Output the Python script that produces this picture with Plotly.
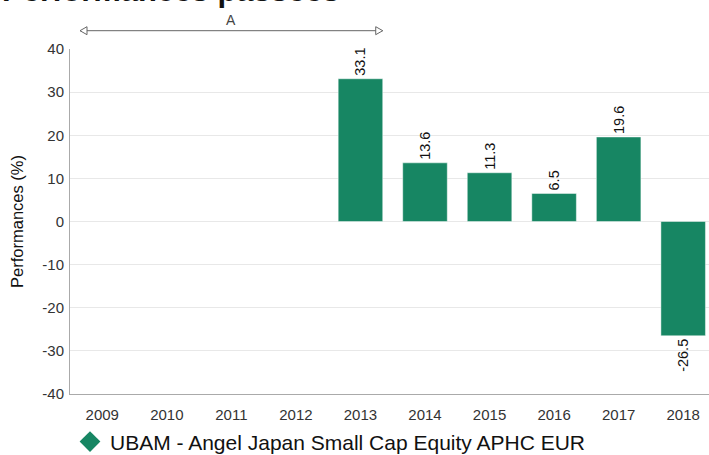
import plotly.graph_objects as go

years = [2009, 2010, 2011, 2012, 2013, 2014, 2015, 2016, 2017, 2018]
perf = [None, None, None, None, 33.1, 13.6, 11.3, 6.5, 19.6, -26.5]
labels = ["" if v is None else f"{v:.1f}" for v in perf]
y_ticks = [40, 30, 20, 10, 0, -10, -20, -30, -40]
y_tick_labels = ["40", "30", "20", "10", "0", "-10", "-20", "-30", "-40"]
series_name = "UBAM - Angel Japan Small Cap Equity APHC EUR"
title_text = "Performances passées"
y_title = "Performances (%)"
period_label = "A"
period_start, period_end = 2009, 2013

GREEN = "#178663"
FONT = "Liberation Sans, Arial, sans-serif"
half_bar = 0.345
PLOT_H = 345.0
BAND_PX = 64.5

fig = go.Figure()
fig.add_trace(go.Bar(
    x=years, y=perf, text=labels, textposition="outside", textangle=-90,
    textfont=dict(size=14.5, color="#111", family=FONT),
    marker=dict(color=GREEN, line=dict(color="rgba(255,255,255,0.45)", width=1)),
    width=0.69, cliponaxis=False, showlegend=False, hoverinfo="skip",
))
# legend proxy
fig.add_trace(go.Scatter(
    x=[None], y=[None], mode="markers", name=series_name,
    marker=dict(symbol="diamond", size=24, color=GREEN),
))

# period arrow (x in data, y in paper)
ay = 1 + (49 - 30.7) / PLOT_H
xa, xb = period_start - half_bar, period_end + half_bar
hl = 7 / BAND_PX          # arrowhead length in data units
hh = 4 / PLOT_H           # arrowhead half height in paper units
arrow_line = dict(color="#666", width=1)
fig.add_shape(type="line", xref="x", yref="paper", x0=xa, x1=xb, y0=ay, y1=ay,
              line=arrow_line, layer="above")
fig.add_shape(type="path", xref="x", yref="paper", line=arrow_line, fillcolor="white",
              path=f"M {xa+hl} {ay+hh} L {xa} {ay} L {xa+hl} {ay-hh} Z", layer="above")
fig.add_shape(type="path", xref="x", yref="paper", line=arrow_line, fillcolor="white",
              path=f"M {xb-hl} {ay+hh} L {xb} {ay} L {xb-hl} {ay-hh} Z", layer="above")

fig.add_annotation(text=period_label, xref="x", yref="paper",
                   x=(period_start + period_end) / 2, y=ay, yanchor="middle", yshift=11,
                   showarrow=False, font=dict(size=14, color="#444", family=FONT))
fig.add_annotation(text=f"<b>{title_text}</b>", xref="paper", yref="paper",
                   x=0, xshift=-70, xanchor="left", y=1, yanchor="bottom", yshift=39,
                   showarrow=False, font=dict(size=31, color="#111", family=FONT))

fig.update_layout(
    width=709, height=455,
    margin=dict(l=70, r=0, t=49, b=61, autoexpand=False),
    paper_bgcolor="white", plot_bgcolor="white",
    font=dict(family=FONT, color="#333"),
    bargap=0.31,
    showlegend=True,
    legend=dict(orientation="h", x=0, xanchor="left", y=-0.139, yanchor="middle",
                font=dict(size=21, color="#111", family=FONT),
                itemsizing="trace", bgcolor="rgba(0,0,0,0)"),
    xaxis=dict(range=[2008.5, 2018.4], tickmode="array", tickvals=years,
               ticktext=[str(y) for y in years], showgrid=False,
               showline=True, linecolor="#aaa", linewidth=1, ticks="",
               ticklabelstandoff=7,
               tickfont=dict(size=15, color="#333"), zeroline=False, fixedrange=True),
    yaxis=dict(range=[-40, 40], tickmode="array", tickvals=y_ticks, ticktext=y_tick_labels,
               showgrid=True, gridcolor="#e8e8e8",
               gridwidth=1, zeroline=False, showline=True, linecolor="#aaa", linewidth=1,
               ticks="", ticklabelstandoff=2, tickfont=dict(size=15, color="#333"),
               title=dict(text=y_title, font=dict(size=16.5, color="#111"), standoff=14),
               fixedrange=True),
)

fig.write_html("out.html", config={"displayModeBar": False},
               post_script="document.body.style.margin='0';")
